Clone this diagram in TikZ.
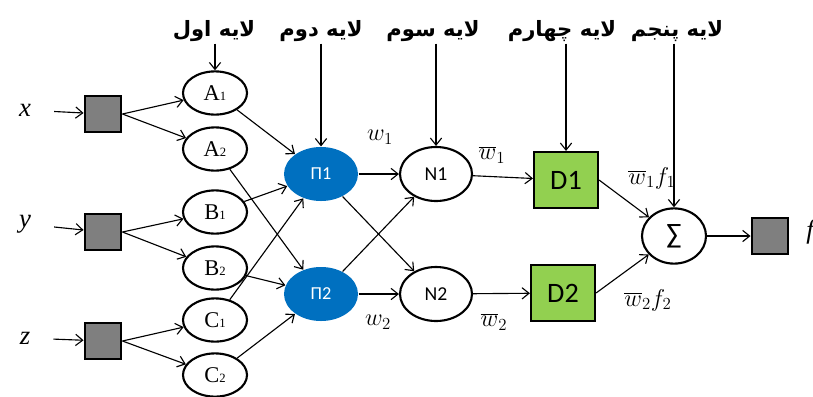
\documentclass[tikz,border=0pt]{standalone}
\usepackage{fontspec}
\setmainfont{Liberation Serif}
\newfontfamily\arabicfont[Script=Arabic]{DejaVu Sans}
\newfontfamily\calfont{Carlito}
\TeXXeTstate=1
\usetikzlibrary{arrows,arrows.meta,shapes,positioning}
\definecolor{piblue}{HTML}{0070C0}
\definecolor{dgreen}{HTML}{92D050}
\definecolor{boxgray}{HTML}{7F7F7F}

\tikzset{
  inbox/.style={draw,line width=1.5pt,fill=boxgray,minimum size=0.92cm,inner sep=0pt},
  memb/.style={draw,line width=1.5pt,ellipse,minimum width=1.6cm,minimum height=1.08cm,
               inner sep=0pt,font=\fontsize{16}{16}\selectfont},
  prod/.style={ellipse,fill=piblue,minimum width=1.85cm,minimum height=1.35cm,
               text=white,font=\calfont\fontsize{13}{13}\selectfont},
  norm/.style={draw,line width=1.5pt,ellipse,minimum width=1.8cm,minimum height=1.35cm,
               font=\calfont\fontsize{14}{14}\selectfont},
  defz/.style={draw,line width=1.5pt,fill=dgreen,minimum width=1.6cm,minimum height=1.4cm,
               font=\calfont\fontsize{20}{20}\selectfont},
  layer/.style={font=\arabicfont\bfseries\fontsize{15}{15}\selectfont,inner sep=1pt},
  wlab/.style={font=\fontsize{17}{17}\selectfont},
  varlab/.style={font=\fontsize{19}{19}\selectfont\itshape}
}

\begin{document}
\begin{tikzpicture}[->,>={Straight Barb[length=5pt,width=8pt]},x=0.025cm,y=0.025cm,line width=0.8pt]
        \useasboundingbox (0,0) rectangle (813,-396);

        % layer titles
        \node[layer] (L1) at (214,-31) {\beginR لایه اول\endR};
        \node[layer] (L2) at (321,-31) {\beginR لایه دوم\endR};
        \node[layer] (L3) at (433,-31) {\beginR لایه سوم\endR};
        \node[layer] (L4) at (562,-31) {\beginR لایه چهارم\endR};
        \node[layer] (L5) at (677,-31) {\beginR لایه پنجم\endR};

        % inputs
        \node[varlab] (x) at (25,-110) {x};
        \node[varlab] (y) at (25,-224) {y};
        \node[varlab] (z) at (25,-338) {z};
        \node[inbox] (sx) at (103,-114) {};
        \node[inbox] (sy) at (103,-232) {};
        \node[inbox] (sz) at (103,-341) {};

        % layer 1
        \node[memb] (A1) at (215,-93) {A{\small 1}};
        \node[memb] (A2) at (215,-149) {A{\small 2}};
        \node[memb] (B1) at (215,-212) {B{\small 1}};
        \node[memb] (B2) at (215,-268) {B{\small 2}};
        \node[memb] (C1) at (215,-320) {C{\small 1}};
        \node[memb] (C2) at (215,-375) {C{\small 2}};

        % layers 2 to 5
        \node[prod] (P1) at (321,-174) {\char"03A0 1};
        \node[prod] (P2) at (321,-294) {\char"03A0 2};
        \node[norm] (N1) at (436,-174) {N1};
        \node[norm] (N2) at (436,-294) {N2};
        \node[defz] (D1) at (566,-180) {D1};
        \node[defz] (D2) at (563,-293) {D2};
        \node[draw,line width=1.5pt,ellipse,minimum width=1.6cm,minimum height=1.38cm,
              font=\calfont\fontsize{20}{20}\selectfont] (S) at (674,-236) {\char"2211};
        \node[inbox] (so) at (770,-236) {};
        \node[varlab] (f) at (810,-232) {f};

        % weights
        \node[wlab] (w1) at (380,-137) {$w_1$};
        \node[wlab] (w2) at (378,-322) {$w_2$};
        \node[wlab] (wb1) at (492,-155) {$\overline{w}_1$};
        \node[wlab] (wb2) at (494,-322) {$\overline{w}_2$};
        \node[wlab] (wf1) at (652,-178) {$\overline{w}_1 f_1$};
        \node[wlab] (wf2) at (648,-300) {$\overline{w}_2 f_2$};

        \path (x)  edge[shorten <=0.45cm] (sx)
              (y)  edge[shorten <=0.45cm] (sy)
              (z)  edge[shorten <=0.45cm] (sz)
              (sx.east) edge (A1) edge (A2)
              (sy.east) edge (B1) edge (B2)
              (sz.east) edge (C1) edge (C2)
              (A1) edge (P1)
              (A2) edge (P2)
              (B1) edge (P1)
              (B2) edge (P2)
              (C1) edge (P1)
              (C2) edge (P2)
              (P1) edge (N1) edge (N2)
              (P2) edge (N1) edge (N2)
              (N1) edge (D1)
              (N2) edge (D2)
              (D1.east) edge (S)
              (D2.east) edge (S)
              (S)  edge (so);

        \path (L1.south -| A1.north) edge (A1.north)
              (L2.south -| P1.north) edge (P1.north)
              (L3.south -| N1.north) edge (N1.north)
              (L4.south -| D1.north) edge (D1.north)
              (L5.south -| S.north) edge (S.north);

      \end{tikzpicture}
\end{document}
